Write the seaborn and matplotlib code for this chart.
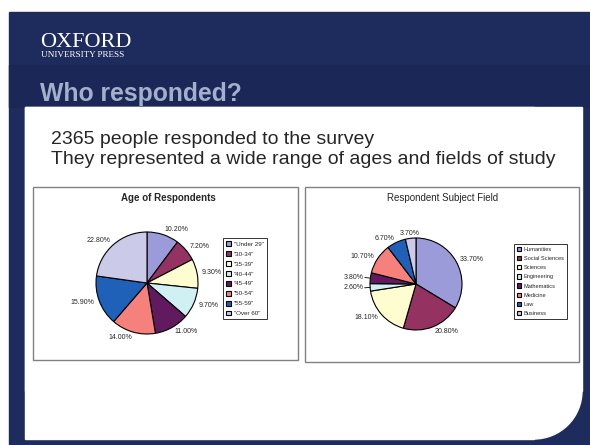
import numpy as np
import matplotlib.pyplot as plt
import seaborn as sns
from matplotlib.patches import Rectangle, Circle

# Chart data
age_groups = ['"Under 29"', '"30-34"', '"35-39"', '"40-44"', '"45-49"', '"50-54"', '"55-59"', '"Over 60"']
age_pct = [10.2, 7.2, 9.3, 9.7, 11.0, 14.0, 15.9, 22.8]

fields = ['Humanities', 'Social Sciences', 'Sciences', 'Engineering',
          'Mathematics', 'Medicine', 'Law', 'Business']
field_pct = [33.7, 20.8, 18.1, 2.6, 3.8, 10.7, 6.7, 3.7]
leader_fields = ['Engineering', 'Mathematics']

sns.set_style('white')
plt.rcParams['font.family'] = ['Liberation Sans', 'DejaVu Sans']

# Excel-like palette
slice_colors = sns.color_palette(['#9b9bda', '#943262', '#fdfdcf', '#d0f0f4',
                                  '#621a5e', '#f6807c', '#1f60b8', '#cbcbe9'])

W, H = 590, 445
NAVY = '#1e2b5d'
fig = plt.figure(figsize=(W / 100, H / 100), dpi=100)
fig.patch.set_facecolor('white')

# background axes in pixel coordinates
bg = fig.add_axes([0, 0, 1, 1])
bg.set_xlim(0, W)
bg.set_ylim(H, 0)
bg.axis('off')

bg.add_patch(Rectangle((9, 12), W - 9, H - 12, color=NAVY, zorder=0))
bg.add_patch(Rectangle((9, 65), W - 9, 42, color='#1b2756', zorder=0))

# white content panel with rounded bottom-right corner
R = 48
px0, py0, px1, py1 = 25, 107, 582, 439
bg.add_patch(Rectangle((px0, py0), px1 - px0 - R, py1 - py0, color='white', zorder=1))
bg.add_patch(Rectangle((px0, py0), px1 - px0, py1 - py0 - R, color='white', zorder=1))
bg.add_patch(Circle((px1 - R, py1 - R), R, color='white', zorder=1))

# header texts
serif = ['Liberation Serif', 'DejaVu Serif']
bg.text(40, 47, 'OXFORD', family=serif, fontsize=16, color='white', va='baseline')
bg.text(41, 57, 'UNIVERSITY PRESS', family=serif, fontsize=6.6, color='white', va='baseline')
bg.text(40, 101, 'Who responded?', fontsize=17.8, fontweight='bold', color='#a4aecd', va='baseline')

bg.text(51, 144, '2365 people responded to the survey', fontsize=14, va='baseline', zorder=3)
bg.text(51, 164, 'They represented a wide range of ages and fields of study', fontsize=14,
        va='baseline', zorder=3)

# chart frames
bg.add_patch(Rectangle((33, 187), 265, 173, facecolor='white', edgecolor='#808080', lw=1, zorder=2))
bg.add_patch(Rectangle((305, 187), 274, 175, facecolor='white', edgecolor='#808080', lw=1, zorder=2))
bg.text(168, 198, 'Age of Respondents', fontsize=7, fontweight='bold', ha='center', va='center', zorder=3)
bg.text(443, 198, 'Respondent Subject Field', fontsize=7, ha='center', va='center', zorder=3)


def pie_axes(cx, cy, r):
    ax = fig.add_axes([(cx - r) / W, 1 - (cy + r) / H, 2 * r / W, 2 * r / H])
    return ax


def draw_pie(ax, values, names, legend_xy, legend_fs, leaders=()):
    wedges, texts = ax.pie(values, colors=slice_colors, startangle=90, counterclock=False,
                           labels=[f'{v:.2f}%' for v in values], labeldistance=1.1,
                           wedgeprops=dict(edgecolor='black', linewidth=0.8),
                           textprops=dict(fontsize=5))
    for w, t, n in zip(wedges, texts, names):
        th = np.deg2rad((w.theta1 + w.theta2) / 2)
        if abs(np.cos(th)) < 0.2:
            t.set_ha('center')
        if n in leaders:
            ax.plot([np.cos(th), 1.12 * np.cos(th)], [np.sin(th), 1.12 * np.sin(th)],
                    color='black', lw=0.6, clip_on=False)
            t.set_position((1.15 * np.cos(th), 1.15 * np.sin(th)))
    ax.set_xlim(-1, 1)
    ax.set_ylim(-1, 1)
    leg = ax.legend(wedges, names, loc='upper left',
                    bbox_to_anchor=(legend_xy[0] / W, 1 - legend_xy[1] / H),
                    bbox_transform=fig.transFigure, fontsize=legend_fs, frameon=True,
                    fancybox=False, edgecolor='black', handlelength=0.8, handleheight=0.8,
                    labelspacing=0.7, borderpad=0.5, handletextpad=0.4, borderaxespad=0)
    leg.get_frame().set_linewidth(0.7)


ax1 = pie_axes(147, 283, 51)
draw_pie(ax1, age_pct, age_groups, (223, 238), 4.5)

ax2 = pie_axes(416, 284, 46)
draw_pie(ax2, field_pct, fields, (514, 244), 4.1, leaders=leader_fields)

fig.savefig('out.png', dpi=100)
